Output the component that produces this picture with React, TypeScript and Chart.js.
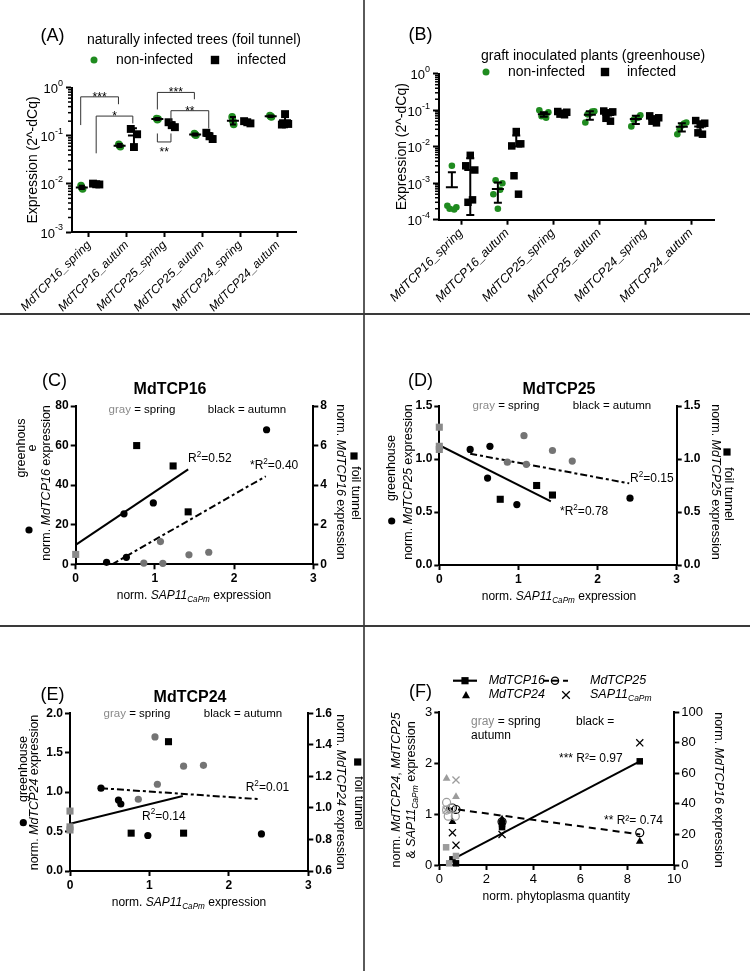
import React, { useEffect, useRef } from 'react';
import { Chart, registerables } from 'chart.js';
Chart.register(...registerables);

const FONT = "'Liberation Sans', Arial, Helvetica, sans-serif";
const GREEN = '#1f8b1f';
const GRAY_DOT = '#747474';
const GRAY_SQ = '#8a8a8a';
const GRAY_F = '#9c9c9c';

// ---------------- (A) naturally infected trees (foil tunnel) ----------------
const catsA = ['MdTCP16_spring', 'MdTCP16_autum', 'MdTCP25_spring', 'MdTCP25_autum', 'MdTCP24_spring', 'MdTCP24_autum'];
const aNonInfected = [
  [0.0083, 0.0092, 0.0078],
  [0.062, 0.066, 0.059],
  [0.215, 0.228, 0.222],
  [0.105, 0.11, 0.102],
  [0.2, 0.245, 0.17],
  [0.25, 0.262, 0.245],
];
const aInfected = [
  [0.0098, 0.0101, 0.0097],
  [0.058, 0.138, 0.107],
  [0.165, 0.19, 0.15],
  [0.097, 0.115, 0.085],
  [0.19, 0.2, 0.18],
  [0.28, 0.17, 0.175],
];
// [mean, low, high]
const aNonInfStats = [[0.0084, 0.0078, 0.0091], [0.062, 0.058, 0.067], [0.222, 0.212, 0.232], [0.106, 0.101, 0.111], [0.205, 0.17, 0.245], [0.253, 0.243, 0.263]];
const aInfStats = [[0.0099, 0.0096, 0.0102], [0.101, 0.06, 0.142], [0.168, 0.15, 0.19], [0.099, 0.086, 0.113], [0.19, 0.18, 0.2], [0.208, 0.15, 0.27]];
const aBrackets = [
  { x1: -0.22, y1: 0.166, x2: 0.78, y2: 0.45, bar: 0.64, label: '***', below: false },
  { x1: 0.19, y1: 0.043, x2: 1.16, y2: 0.18, bar: 0.255, label: '*', below: false },
  { x1: 1.81, y1: 0.35, x2: 2.79, y2: 0.57, bar: 0.79, label: '***', below: false },
  { x1: 2.17, y1: 0.194, x2: 3.17, y2: 0.141, bar: 0.33, label: '**', below: false },
  { x1: 1.81, y1: 0.111, x2: 2.17, y2: 0.111, bar: 0.074, label: '**', below: true },
];

// ---------------- (B) graft inoculated plants (greenhouse) ----------------
const catsB = catsA;
const bNonInfected = [
  [0.003, 0.00024, 0.00022, 0.0002, 0.00019],
  [0.0002, 0.0005, 0.001, 0.0012, 0.00066],
  [0.075, 0.1, 0.088, 0.068, 0.062],
  [0.08, 0.046, 0.093, 0.077, 0.092],
  [0.06, 0.036, 0.073, 0.055, 0.062],
  [0.038, 0.022, 0.046, 0.03, 0.043],
];
const bInfected = [
  [0.0058, 0.003, 0.0023, 0.0003, 0.00035],
  [0.026, 0.0105, 0.012, 0.0016, 0.0005],
  [0.083, 0.092, 0.088, 0.078, 0.075],
  [0.085, 0.095, 0.09, 0.06, 0.05],
  [0.058, 0.07, 0.062, 0.05, 0.045],
  [0.04, 0.052, 0.044, 0.024, 0.022],
];
const bNonInfStats = [[0.00078, 0, 0.002], [0.00069, 0.00029, 0.00104], [0.077, 0.066, 0.088], [0.075, 0.055, 0.094], [0.057, 0.042, 0.07], [0.035, 0.026, 0.044]];
const bInfStats = [[0.0023, 0.000135, 0.0048], [0.0101, 0, 0.0204], [0.083, 0.077, 0.089], [0.074, 0.055, 0.093], [0.056, 0.047, 0.065], [0.036, 0.022, 0.05]];

// ---------------- (C) MdTCP16 ----------------
const cGhSpringX = [0.86, 1.07, 1.1, 1.43, 1.68];
const cGhSpringY = [0.6, 11.5, 0.5, 4.8, 6.1];
const cGhAutumnX = [0.39, 0.61, 0.64, 0.98, 2.41];
const cGhAutumnY = [1.0, 25.5, 3.5, 31, 68];
const cFtSpringX = [0];
const cFtSpringY = [0.5];
const cFtAutumnX = [0.77, 1.23, 1.42];
const cFtAutumnY = [6.0, 4.97, 2.65];
const cFtFitX = [0, 1.42];
const cFtFitY = [0.98, 4.8];
const cGhFitX = [0.46, 2.4];
const cGhFitY = [0, 44.5];

// ---------------- (D) MdTCP25 ----------------
const dGhSpringX = [0.86, 1.07, 1.1, 1.43, 1.68];
const dGhSpringY = [0.97, 1.22, 0.95, 1.08, 0.98];
const dGhAutumnX = [0.39, 0.61, 0.64, 0.98, 2.41];
const dGhAutumnY = [1.09, 0.82, 1.12, 0.57, 0.63];
const dFtSpringX = [0, 0, 0];
const dFtSpringY = [1.3, 1.12, 1.09];
const dFtAutumnX = [0.77, 1.23, 1.43];
const dFtAutumnY = [0.62, 0.75, 0.66];
const dFtFitX = [0, 1.41];
const dFtFitY = [1.13, 0.6];
const dGhFitX = [0.39, 2.4];
const dGhFitY = [1.05, 0.77];

// ---------------- (E) MdTCP24 ----------------
const eGhSpringX = [0.86, 1.07, 1.1, 1.43, 1.68];
const eGhSpringY = [0.91, 1.7, 1.1, 1.33, 1.34];
const eGhAutumnX = [0.39, 0.61, 0.64, 0.98, 2.41];
const eGhAutumnY = [1.05, 0.9, 0.85, 0.45, 0.47];
const eFtSpringX = [0, 0, 0];
const eFtSpringY = [0.98, 0.88, 0.86];
const eFtAutumnX = [0.77, 1.24, 1.43];
const eFtAutumnY = [0.84, 1.42, 0.84];
const eFtFitX = [0, 1.42];
const eFtFitY = [0.9, 1.075];
const eGhFitX = [0.39, 2.4];
const eGhFitY = [1.05, 0.91];

// ---------------- (F) phytoplasma quantity ----------------
const fTcp16GrayX = [0.29, 0.71, 0.42];
const fTcp16GrayY = [11.6, 5.9, 1.1];
const fTcp16BlackX = [0.56, 0.71, 2.67, 2.67, 8.53];
const fTcp16BlackY = [3.7, 1.1, 26.8, 24.8, 67.9];
const fTcp25GrayX = [0.31, 0.31, 0.38, 0.68, 0.5];
const fTcp25GrayY = [1.23, 1.08, 0.96, 0.96, 1.12];
const fTcp25BlackX = [0.56, 0.71, 2.67, 8.53];
const fTcp25BlackY = [1.12, 1.09, 0.85, 0.635];
const fTcp24GrayX = [0.31, 0.71];
const fTcp24GrayY = [1.7, 1.34];
const fTcp24BlackX = [0.56, 2.67, 8.53];
const fTcp24BlackY = [0.85, 0.9, 0.46];
const fSapGrayX = [0.71, 0.29];
const fSapGrayY = [1.67, 1.08];
const fSapBlackX = [0.56, 0.71, 2.67, 8.53];
const fSapBlackY = [0.635, 0.39, 0.6, 2.4];
const fTcp16FitX = [0.38, 8.55];
const fTcp16FitY = [2.2, 68];
const fTcp25FitX = [0.29, 8.55];
const fTcp25FitY = [1.12, 0.6];

// ---------------- helpers ----------------
const JIT = [0, -0.07, 0.07, -0.035, 0.035];
const zip = (xs: number[], ys: number[]) => xs.map((x, i) => ({ x, y: ys[i] }));
const groupPoints = (groups: number[][], offset: number, jit: number) => {
  const pts: any[] = [];
  groups.forEach((g, i) => g.forEach((v, j) => pts.push({ x: i + offset + JIT[j % JIT.length] * jit, y: v })));
  return pts;
};

type Part = { t: string; i?: boolean; b?: boolean; sup?: boolean; sub?: boolean; c?: string };
function rich(ctx: CanvasRenderingContext2D, parts: Part[], x: number, y: number, size: number,
  o: { align?: 'left' | 'center' | 'right'; rot?: number; bold?: boolean; color?: string } = {}) {
  ctx.save();
  ctx.translate(x, y);
  if (o.rot) ctx.rotate((o.rot * Math.PI) / 180);
  ctx.textBaseline = 'middle';
  ctx.textAlign = 'left';
  const fontOf = (p: Part) => `${p.i ? 'italic ' : ''}${(p.b ?? o.bold) ? 'bold ' : ''}${p.sup || p.sub ? size * 0.68 : size}px ${FONT}`;
  let total = 0;
  const ws = parts.map((p) => { ctx.font = fontOf(p); const w = ctx.measureText(p.t).width; total += w; return w; });
  let cx = o.align === 'left' ? 0 : o.align === 'right' ? -total : -total / 2;
  parts.forEach((p, k) => {
    ctx.font = fontOf(p);
    ctx.fillStyle = p.c || o.color || '#000';
    const dy = p.sup ? -size * 0.38 : p.sub ? size * 0.3 : 0;
    ctx.fillText(p.t, cx, dy);
    cx += ws[k];
  });
  ctx.restore();
}
const txt = (ctx: CanvasRenderingContext2D, s: string, x: number, y: number, size: number, o: any = {}) => rich(ctx, [{ t: s }], x, y, size, o);

function marker(ctx: CanvasRenderingContext2D, style: string, x: number, y: number, r: number, color: string, filled = true) {
  ctx.save();
  ctx.fillStyle = color; ctx.strokeStyle = color; ctx.lineWidth = 1.3;
  ctx.beginPath();
  if (style === 'circle') {
    ctx.arc(x, y, r, 0, Math.PI * 2);
    if (filled) ctx.fill(); else { ctx.fillStyle = '#fff'; ctx.fill(); ctx.stroke(); }
  } else if (style === 'rect') { ctx.rect(x - r, y - r, 2 * r, 2 * r); ctx.fill(); }
  else if (style === 'triangle') { ctx.moveTo(x, y - r); ctx.lineTo(x + r, y + r * 0.8); ctx.lineTo(x - r, y + r * 0.8); ctx.closePath(); ctx.fill(); }
  else if (style === 'cross') { ctx.moveTo(x - r, y - r); ctx.lineTo(x + r, y + r); ctx.moveTo(x + r, y - r); ctx.lineTo(x - r, y + r); ctx.stroke(); }
  ctx.restore();
}

const gridOpts = (len: number) => ({ display: true, drawOnChartArea: false, drawTicks: true, tickLength: len, tickWidth: 2, tickColor: '#000' });
const borderOpts = { display: true, color: '#000', width: 2 };

function catAxis(labels: string[], min: number, max: number, h: number, size: number) {
  return {
    type: 'linear', position: 'bottom', min, max,
    afterBuildTicks: (s: any) => { s.ticks = labels.map((_, i) => ({ value: i })); },
    afterFit: (s: any) => { s.height = h; },
    ticks: {
      autoSkip: false, minRotation: 45, maxRotation: 45, padding: 1, color: '#000',
      font: { family: FONT, size, style: 'italic' },
      callback: (v: number) => labels[Math.round(v)] ?? '',
    },
    grid: gridOpts(5),
    border: borderOpts,
  };
}
function logAxis(min: number, max: number, w: number) {
  return {
    type: 'logarithmic', position: 'left', min, max,
    afterBuildTicks: (s: any) => {
      const t: any[] = [];
      for (let e = Math.round(Math.log10(min)); e <= Math.round(Math.log10(max)); e++) t.push({ value: Math.pow(10, e), major: true });
      s.ticks = t;
    },
    afterFit: (s: any) => { s.width = w; },
    ticks: { display: false },
    grid: gridOpts(6),
    border: borderOpts,
  };
}
function linAxis(pos: string, min: number, max: number, step: number, fit: number, o: { fmt?: (v: number) => string; bold?: boolean; size?: number } = {}) {
  return {
    type: 'linear', position: pos, min, max,
    afterFit: (s: any) => { if (pos === 'bottom') s.height = fit; else s.width = fit; },
    ticks: {
      stepSize: step, autoSkip: false, color: '#000', padding: 2,
      font: { family: FONT, size: o.size ?? 12, weight: o.bold ? 'bold' : 'normal' },
      callback: (v: number) => (o.fmt ? o.fmt(v) : String(Math.round(v * 1000) / 1000)),
    },
    grid: gridOpts(5),
    border: borderOpts,
  };
}

function logDecor(chart: any, scale: any) {
  const ctx = chart.ctx as CanvasRenderingContext2D;
  const lo = Math.round(Math.log10(scale.min));
  const hi = Math.round(Math.log10(scale.max));
  ctx.save();
  ctx.strokeStyle = '#000';
  ctx.lineWidth = 1.5;
  for (let e = lo; e < hi; e++) {
    for (let k = 2; k <= 9; k++) {
      const py = scale.getPixelForValue(k * Math.pow(10, e));
      ctx.beginPath(); ctx.moveTo(scale.right - 4, py); ctx.lineTo(scale.right, py); ctx.stroke();
    }
  }
  ctx.fillStyle = '#000';
  for (let e = lo; e <= hi; e++) {
    const py = scale.getPixelForValue(Math.pow(10, e));
    const exp = String(e);
    ctx.textAlign = 'right';
    ctx.textBaseline = 'middle';
    ctx.font = `9px ${FONT}`;
    const we = ctx.measureText(exp).width;
    const xr = scale.right - 9;
    ctx.fillText(exp, xr, py - 4);
    ctx.font = `13px ${FONT}`;
    ctx.fillText('10', xr - we, py + 2);
  }
  ctx.restore();
}

function drawStats(chart: any, stats: number[][], offset: number, halfMean: number, halfCap: number) {
  const ctx = chart.ctx as CanvasRenderingContext2D;
  const { x, y } = chart.scales;
  ctx.save();
  ctx.strokeStyle = '#000';
  ctx.lineWidth = 2;
  stats.forEach(([m, lo, hi], i) => {
    const px = x.getPixelForValue(i + offset);
    const pm = y.getPixelForValue(m);
    const ph = y.getPixelForValue(hi);
    const pl = lo > 0 ? y.getPixelForValue(lo) : pm;
    ctx.beginPath();
    ctx.moveTo(px - halfMean, pm); ctx.lineTo(px + halfMean, pm);
    ctx.moveTo(px, ph); ctx.lineTo(px, pl);
    ctx.moveTo(px - halfCap, ph); ctx.lineTo(px + halfCap, ph);
    if (lo > 0) { ctx.moveTo(px - halfCap, pl); ctx.lineTo(px + halfCap, pl); }
    ctx.stroke();
  });
  ctx.restore();
}

const overlay = (fn: (chart: any, ctx: CanvasRenderingContext2D) => void) => ({
  id: 'overlay',
  afterDraw: (chart: any) => { const ctx = chart.ctx; ctx.save(); fn(chart, ctx); ctx.restore(); },
});

const base = {
  responsive: false,
  animation: false,
  devicePixelRatio: 1,
  events: [],
  plugins: { legend: { display: false }, tooltip: { enabled: false }, title: { display: false } },
};

const pts = (data: any[], style: string, r: number, color: string, axis = 'y', extra: any = {}) => ({
  data, pointStyle: style, pointRadius: r, backgroundColor: color, borderColor: color, borderWidth: 0, clip: false, yAxisID: axis, ...extra,
});
const fit = (data: any[], axis: string, dash: number[]) => ({
  data, showLine: true, pointRadius: 0, borderColor: '#000', borderWidth: 2, borderDash: dash, yAxisID: axis, fill: false,
});

const SAP_TITLE: Part[] = [{ t: 'norm. ' }, { t: 'SAP11', i: true }, { t: 'CaPm', i: true, sub: true }, { t: ' expression' }];
const normTitle = (gene: string): Part[] => [{ t: 'norm. ' }, { t: gene, i: true }, { t: ' expression' }];
const R2 = (pre: string, val: string): Part[] => [{ t: pre + 'R' }, { t: '2', sup: true }, { t: '=' + val }];

// ---------------- chart builders ----------------
function makeA() {
  return {
    type: 'scatter',
    data: {
      datasets: [
        pts(groupPoints(aNonInfected, -0.19, 0.3), 'circle', 3.8, GREEN),
        pts(groupPoints(aInfected, 0.19, 1.2), 'rect', 5.6, '#000'),
      ],
    },
    options: {
      ...base,
      layout: { padding: { top: 87.5, right: 67, left: 0, bottom: 0 } },
      scales: { x: catAxis(catsA, -0.45, 5.48, 81, 12), y: logAxis(0.001, 1, 72) },
    },
    plugins: [overlay((chart, ctx) => {
      const { x, y } = chart.scales;
      txt(ctx, '(A)', 52.5, 36, 18);
      txt(ctx, 'naturally infected trees (foil tunnel)', 87, 40, 14, { align: 'left' });
      marker(ctx, 'circle', 94, 60, 3.5, GREEN);
      txt(ctx, 'non-infected', 116, 60, 14, { align: 'left' });
      marker(ctx, 'rect', 215, 60, 4.2, '#000');
      txt(ctx, 'infected', 237, 60, 14, { align: 'left' });
      txt(ctx, 'Expression (2^-dCq)', 33, 160, 14, { rot: -90 });
      logDecor(chart, y);
      drawStats(chart, aNonInfStats, -0.19, 6, 3);
      drawStats(chart, aInfStats, 0.19, 6, 3);
      ctx.strokeStyle = '#333';
      ctx.lineWidth = 1;
      ctx.fillStyle = '#000';
      aBrackets.forEach((b) => {
        const x1 = x.getPixelForValue(b.x1), x2 = x.getPixelForValue(b.x2);
        const y1 = y.getPixelForValue(b.y1), y2 = y.getPixelForValue(b.y2), yb = y.getPixelForValue(b.bar);
        ctx.beginPath();
        ctx.moveTo(x1, y1); ctx.lineTo(x1, yb); ctx.lineTo(x2, yb); ctx.lineTo(x2, y2);
        ctx.stroke();
        ctx.font = `12px ${FONT}`;
        ctx.textAlign = 'center';
        ctx.textBaseline = 'alphabetic';
        ctx.fillText(b.label, (x1 + x2) / 2, b.below ? yb + 14 : yb + 4);
      });
    })],
  };
}

function makeB() {
  return {
    type: 'scatter',
    data: {
      datasets: [
        pts(groupPoints(bNonInfected, -0.2, 1.4), 'circle', 3.3, GREEN),
        pts(groupPoints(bInfected, 0.2, 1.4), 'rect', 5.3, '#000'),
      ],
    },
    options: {
      ...base,
      layout: { padding: { top: 73.7, right: 36, left: 0, bottom: 0 } },
      scales: { x: catAxis(catsB, -0.48, 5.5, 93.3, 12.5), y: logAxis(0.0001, 1, 74) },
    },
    plugins: [overlay((chart, ctx) => {
      txt(ctx, '(B)', 55.5, 35.5, 18);
      txt(ctx, 'graft inoculated plants (greenhouse)', 116, 56, 14, { align: 'left' });
      marker(ctx, 'circle', 121, 72, 3.5, GREEN);
      txt(ctx, 'non-infected', 143, 72, 14, { align: 'left' });
      marker(ctx, 'rect', 240, 72, 4.2, '#000');
      txt(ctx, 'infected', 262, 72, 14, { align: 'left' });
      txt(ctx, 'Expression (2^-dCq)', 36.7, 146.7, 14, { rot: -90 });
      logDecor(chart, chart.scales.y);
      drawStats(chart, bNonInfStats, -0.2, 6, 4);
      drawStats(chart, bInfStats, 0.2, 6, 4);
    })],
  };
}

function scatterDatasets(s: any) {
  return [
    pts(zip(s.ghSpringX, s.ghSpringY), 'circle', 3.6, GRAY_DOT, 'y'),
    pts(zip(s.ghAutumnX, s.ghAutumnY), 'circle', 3.6, '#000', 'y'),
    pts(zip(s.ftSpringX, s.ftSpringY), 'rect', 5, GRAY_SQ, 'y1'),
    pts(zip(s.ftAutumnX, s.ftAutumnY), 'rect', 5, '#000', 'y1'),
    fit(zip(s.ftFitX, s.ftFitY), 'y1', []),
    fit(zip(s.ghFitX, s.ghFitY), 'y', [7, 3, 3, 3]),
  ];
}

const springAutumn = (ctx: CanvasRenderingContext2D, xs: number, xa: number, y: number) => {
  rich(ctx, [{ t: 'gray', c: '#8a8a8a' }, { t: ' = spring' }], xs, y, 11.5);
  txt(ctx, 'black = autumn', xa, y, 11.5);
};

function makeC() {
  const f1 = (v: number) => String(Math.round(v));
  return {
    type: 'scatter',
    data: {
      datasets: scatterDatasets({
        ghSpringX: cGhSpringX, ghSpringY: cGhSpringY, ghAutumnX: cGhAutumnX, ghAutumnY: cGhAutumnY,
        ftSpringX: cFtSpringX, ftSpringY: cFtSpringY, ftAutumnX: cFtAutumnX, ftAutumnY: cFtAutumnY,
        ftFitX: cFtFitX, ftFitY: cFtFitY, ghFitX: cGhFitX, ghFitY: cGhFitY,
      }),
    },
    options: {
      ...base,
      layout: { padding: { top: 91, right: 0, left: 0, bottom: 0 } },
      scales: {
        x: linAxis('bottom', 0, 3, 1, 60.7, { bold: true, fmt: f1 }),
        y: linAxis('left', 0, 80, 20, 75.7, { bold: true, fmt: f1 }),
        y1: linAxis('right', 0, 8, 2, 49.7, { bold: true, fmt: f1 }),
      },
    },
    plugins: [overlay((chart, ctx) => {
      txt(ctx, '(C)', 54.5, 66, 18);
      txt(ctx, 'MdTCP16', 170, 75, 16, { bold: true });
      springAutumn(ctx, 142, 247, 95);
      rich(ctx, R2('', '0.52'), 188, 144, 12, { align: 'left' });
      rich(ctx, R2('*', '0.40'), 250, 151, 12, { align: 'left' });
      rich(ctx, normTitle('MdTCP16'), 46.7, 168, 12.5, { rot: -90 });
      txt(ctx, 'greenhous', 21.7, 133, 12.5, { rot: -90 });
      txt(ctx, 'e', 33, 133, 12.5, { rot: -90 });
      marker(ctx, 'circle', 29, 215, 3.6, '#000');
      rich(ctx, normTitle('MdTCP16'), 340, 167, 12.5, { rot: 90 });
      txt(ctx, 'foil tunnel', 355, 178, 12.5, { rot: 90 });
      marker(ctx, 'rect', 354, 141, 3.6, '#000');
      rich(ctx, SAP_TITLE, 194, 281, 12);
    })],
  };
}

function makeD() {
  const f1 = (v: number) => v.toFixed(1);
  return {
    type: 'scatter',
    data: {
      datasets: scatterDatasets({
        ghSpringX: dGhSpringX, ghSpringY: dGhSpringY, ghAutumnX: dGhAutumnX, ghAutumnY: dGhAutumnY,
        ftSpringX: dFtSpringX, ftSpringY: dFtSpringY, ftAutumnX: dFtAutumnX, ftAutumnY: dFtAutumnY,
        ftFitX: dFtFitX, ftFitY: dFtFitY, ghFitX: dGhFitX, ghFitY: dGhFitY,
      }),
    },
    options: {
      ...base,
      layout: { padding: { top: 91, right: 0, left: 0, bottom: 0 } },
      scales: {
        x: linAxis('bottom', 0, 3, 1, 60, { bold: true, fmt: (v) => String(Math.round(v)) }),
        y: linAxis('left', 0, 1.5, 0.5, 74.3, { bold: true, fmt: f1 }),
        y1: linAxis('right', 0, 1.5, 0.5, 73.3, { bold: true, fmt: f1 }),
      },
    },
    plugins: [overlay((chart, ctx) => {
      txt(ctx, '(D)', 55.5, 66, 18);
      txt(ctx, 'MdTCP25', 194, 75, 16, { bold: true });
      springAutumn(ctx, 141, 247, 91);
      rich(ctx, R2('', '0.15'), 265, 164, 12, { align: 'left' });
      rich(ctx, R2('*', '0.78'), 195, 197, 12, { align: 'left' });
      rich(ctx, normTitle('MdTCP25'), 43.3, 167, 12.5, { rot: -90 });
      txt(ctx, 'greenhouse', 26.7, 153, 12.5, { rot: -90 });
      marker(ctx, 'circle', 26.7, 206, 3.6, '#000');
      rich(ctx, normTitle('MdTCP25'), 350, 167, 12.5, { rot: 90 });
      txt(ctx, 'foil tunnel', 363, 179, 12.5, { rot: 90 });
      marker(ctx, 'rect', 362, 137, 3.6, '#000');
      rich(ctx, SAP_TITLE, 194, 282, 12);
    })],
  };
}

function makeE() {
  const f1 = (v: number) => v.toFixed(1);
  return {
    type: 'scatter',
    data: {
      datasets: scatterDatasets({
        ghSpringX: eGhSpringX, ghSpringY: eGhSpringY, ghAutumnX: eGhAutumnX, ghAutumnY: eGhAutumnY,
        ftSpringX: eFtSpringX, ftSpringY: eFtSpringY, ftAutumnX: eFtAutumnX, ftAutumnY: eFtAutumnY,
        ftFitX: eFtFitX, ftFitY: eFtFitY, ghFitX: eGhFitX, ghFitY: eGhFitY,
      }),
    },
    options: {
      ...base,
      layout: { padding: { top: 86.3, right: 0, left: 0, bottom: 0 } },
      scales: {
        x: linAxis('bottom', 0, 3, 1, 100, { bold: true, fmt: (v) => String(Math.round(v)) }),
        y: linAxis('left', 0, 2, 0.5, 70, { bold: true, fmt: f1 }),
        y1: linAxis('right', 0.6, 1.6, 0.2, 54.7, { bold: true, fmt: f1 }),
      },
    },
    plugins: [overlay((chart, ctx) => {
      txt(ctx, '(E)', 52.5, 68, 18);
      txt(ctx, 'MdTCP24', 190, 71, 16, { bold: true });
      springAutumn(ctx, 137, 243, 87);
      rich(ctx, R2('', '0.01'), 245.7, 161, 12, { align: 'left' });
      rich(ctx, R2('', '0.14'), 142, 189.7, 12, { align: 'left' });
      rich(ctx, normTitle('MdTCP24'), 34.3, 165.5, 12.5, { rot: -90 });
      txt(ctx, 'greenhouse', 23.3, 142, 12.5, { rot: -90 });
      marker(ctx, 'circle', 23.3, 195.7, 3.6, '#000');
      rich(ctx, normTitle('MdTCP24'), 340, 165, 12.5, { rot: 90 });
      txt(ctx, 'foil tunnel', 358.3, 176, 12.5, { rot: 90 });
      marker(ctx, 'rect', 357.7, 135, 3.6, '#000');
      rich(ctx, SAP_TITLE, 189, 276, 12);
    })],
  };
}

function makeF() {
  const open = (c: string) => ({ backgroundColor: 'rgba(0,0,0,0)', borderColor: c, borderWidth: 1.2 });
  return {
    type: 'scatter',
    data: {
      datasets: [
        pts(zip(fTcp16GrayX, fTcp16GrayY), 'rect', 4.6, GRAY_F, 'y1'),
        pts(zip(fTcp16BlackX, fTcp16BlackY), 'rect', 4.6, '#000', 'y1'),
        pts(zip(fTcp25GrayX, fTcp25GrayY), 'circle', 4, GRAY_F, 'y', open(GRAY_F)),
        pts(zip(fTcp25BlackX, fTcp25BlackY), 'circle', 4, '#000', 'y', open('#000')),
        pts(zip(fTcp24GrayX, fTcp24GrayY), 'triangle', 4.5, GRAY_F, 'y'),
        pts(zip(fTcp24BlackX, fTcp24BlackY), 'triangle', 4.5, '#000', 'y'),
        pts(zip(fSapGrayX, fSapGrayY), 'crossRot', 5, GRAY_F, 'y', { borderWidth: 1.3 }),
        pts(zip(fSapBlackX, fSapBlackY), 'crossRot', 5, '#000', 'y', { borderWidth: 1.3 }),
        fit(zip(fTcp16FitX, fTcp16FitY), 'y1', []),
        fit(zip(fTcp25FitX, fTcp25FitY), 'y', [7, 5]),
      ],
    },
    options: {
      ...base,
      layout: { padding: { top: 85.3, right: 0, left: 0, bottom: 0 } },
      scales: {
        x: linAxis('bottom', 0, 10, 2, 106, { size: 13 }),
        y: linAxis('left', 0, 3, 1, 74.3, { size: 13 }),
        y1: linAxis('right', 0, 100, 20, 75.7, { size: 13 }),
      },
    },
    plugins: [overlay((chart, ctx) => {
      txt(ctx, '(F)', 55.5, 64.7, 18);
      // legend
      ctx.strokeStyle = '#000';
      ctx.lineWidth = 2.2;
      ctx.beginPath(); ctx.moveTo(88, 53.7); ctx.lineTo(112, 53.7); ctx.stroke();
      marker(ctx, 'rect', 100, 53.7, 3.6, '#000');
      rich(ctx, [{ t: 'MdTCP16', i: true }], 123.7, 53.7, 12.5, { align: 'left' });
      ctx.lineWidth = 2;
      ctx.beginPath();
      ctx.moveTo(178, 53.7); ctx.lineTo(184, 53.7);
      ctx.moveTo(186, 53.7); ctx.lineTo(194, 53.7);
      ctx.moveTo(198, 53.7); ctx.lineTo(203, 53.7);
      ctx.stroke();
      marker(ctx, 'circle', 190, 53.7, 3.6, '#000', false);
      ctx.beginPath(); ctx.moveTo(187, 53.7); ctx.lineTo(193, 53.7); ctx.stroke();
      rich(ctx, [{ t: 'MdTCP25', i: true }], 225, 53.7, 12.5, { align: 'left' });
      marker(ctx, 'triangle', 101, 68, 4, '#000');
      rich(ctx, [{ t: 'MdTCP24', i: true }], 123.7, 68, 12.5, { align: 'left' });
      marker(ctx, 'cross', 201, 68, 3.8, '#000');
      rich(ctx, [{ t: 'SAP11', i: true }, { t: 'CaPm', i: true, sub: true }], 225, 68, 12.5, { align: 'left' });
      rich(ctx, [{ t: 'gray', c: '#8a8a8a' }, { t: ' = spring' }], 106, 94.7, 12, { align: 'left' });
      txt(ctx, 'black =', 211, 94.7, 12, { align: 'left' });
      txt(ctx, 'autumn', 106, 109, 12, { align: 'left' });
      txt(ctx, '*** R\u00b2= 0.97', 194, 131.3, 12, { align: 'left' });
      txt(ctx, '** R\u00b2= 0.74', 239, 194, 12, { align: 'left' });
      rich(ctx, [{ t: 'norm. ' }, { t: 'MdTCP24', i: true }, { t: ', ' }, { t: 'MdTCP25', i: true }], 31.7, 163, 12.5, { rot: -90 });
      rich(ctx, [{ t: '& ' }, { t: 'SAP11', i: true }, { t: 'CaPm', i: true, sub: true }, { t: ' expression' }], 46.7, 163, 12.5, { rot: -90 });
      rich(ctx, normTitle('MdTCP16'), 353, 163, 12.5, { rot: 90 });
      txt(ctx, 'norm. phytoplasma quantity', 191.3, 269.7, 12);
    })],
  };
}

function Panel({ left, top, width, height, make }: { left: number; top: number; width: number; height: number; make: () => any }) {
  const ref = useRef<HTMLCanvasElement>(null);
  useEffect(() => {
    const chart = new Chart(ref.current as HTMLCanvasElement, make());
    return () => chart.destroy();
  }, []);
  return (
    <canvas ref={ref} width={width} height={height}
      style={{ position: 'absolute', left, top, width, height, display: 'block' }} />
  );
}

export default function App() {
  return (
    <div style={{ position: 'absolute', left: 0, top: 0, width: 750, height: 971, background: '#fff', overflow: 'hidden' }}>
      <Panel left={0} top={0} width={363} height={313} make={makeA} />
      <Panel left={365} top={0} width={385} height={313} make={makeB} />
      <Panel left={0} top={315} width={363} height={310} make={makeC} />
      <Panel left={365} top={315} width={385} height={310} make={makeD} />
      <Panel left={0} top={627} width={363} height={344} make={makeE} />
      <Panel left={365} top={627} width={385} height={344} make={makeF} />
      <div style={{ position: 'absolute', left: 363, top: 0, width: 2, height: 971, background: '#5a5a5a' }} />
      <div style={{ position: 'absolute', left: 0, top: 313, width: 750, height: 2, background: '#3a3a3a' }} />
      <div style={{ position: 'absolute', left: 0, top: 625, width: 750, height: 2, background: '#3a3a3a' }} />
    </div>
  );
}
